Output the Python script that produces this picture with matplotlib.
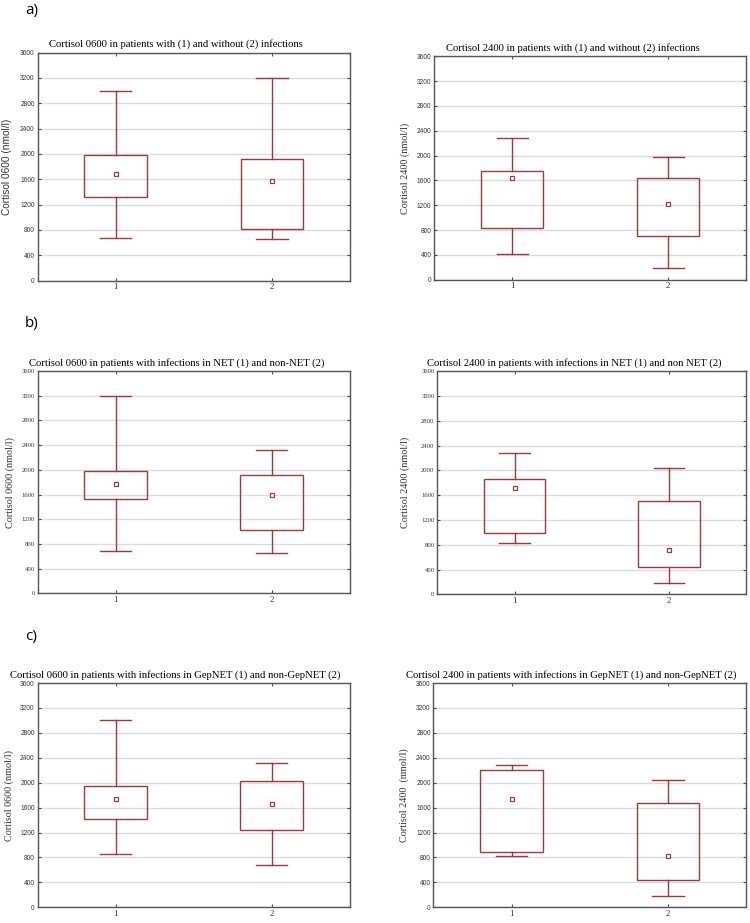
import matplotlib
matplotlib.use("Agg")
import matplotlib.pyplot as plt

## data (nmol/l): whisker low, box low, mean, box high, whisker high
groups = [1, 2]
a06_low = [680, 655];   a06_q1 = [1325, 812];  a06_mean = [1690, 1578]; a06_q3 = [1990, 1920]; a06_high = [3000, 3195]
a24_low = [408, 193];   a24_q1 = [827, 704];   a24_mean = [1644, 1225]; a24_q3 = [1752, 1633]; a24_high = [2289, 1983]
b06_low = [690, 663];   b06_q1 = [1536, 1029]; b06_mean = [1779, 1590]; b06_q3 = [1989, 1924]; b06_high = [3200, 2317]
b24_low = [823, 188];   b24_q1 = [995, 447];   b24_mean = [1717, 710];  b24_q3 = [1862, 1507]; b24_high = [2287, 2039]
c06_low = [848, 687];   c06_q1 = [1411, 1245]; c06_mean = [1744, 1663]; c06_q3 = [1948, 2033]; c06_high = [3010, 2312]
c24_low = [820, 188];   c24_q1 = [884, 445];   c24_mean = [1746, 825];  c24_q3 = [2196, 1671]; c24_high = [2288, 2036]

titles = [
    "Cortisol 0600 in patients with (1) and without (2) infections",
    "Cortisol 2400 in patients with (1) and without (2) infections",
    "Cortisol 0600 in patients with infections in NET (1) and non-NET (2)",
    "Cortisol 2400 in patients with infections in NET (1) and non NET (2)",
    "Cortisol 0600 in patients with infections in GepNET (1) and non-GepNET (2)",
    "Cortisol 2400 in patients with infections in GepNET (1) and non-GepNET (2)",
]
ylabels = ["Cortisol 0600 (nmol/l)", "Cortisol 2400 (nmol/l)",
           "Cortisol 0600 (nmol/l)", "Cortisol 2400 (nmol/l)",
           "Cortisol 0600 (nmol/l)", "Cortisol 2400  (nmol/l)"]
yticks = [0, 400, 800, 1200, 1600, 2000, 2400, 2800, 3200, 3600]

panels = [
    (a06_low, a06_q1, a06_mean, a06_q3, a06_high),
    (a24_low, a24_q1, a24_mean, a24_q3, a24_high),
    (b06_low, b06_q1, b06_mean, b06_q3, b06_high),
    (b24_low, b24_q1, b24_mean, b24_q3, b24_high),
    (c06_low, c06_q1, c06_mean, c06_q3, c06_high),
    (c24_low, c24_q1, c24_mean, c24_q3, c24_high),
]

# axes rectangles in figure fractions [left, bottom, width, height]
rects = [
    [0.050, 0.696, 0.417, 0.247],
    [0.579, 0.697, 0.416, 0.242],
    [0.050, 0.357, 0.416, 0.241],
    [0.583, 0.356, 0.412, 0.242],
    [0.050, 0.017, 0.416, 0.243],
    [0.578, 0.017, 0.417, 0.243],
]
tickfonts = ["Liberation Sans", "Liberation Sans", "Liberation Serif", "Liberation Serif", "Liberation Sans", "Liberation Sans"]
labelfonts = ["Liberation Sans", "Liberation Serif", "Liberation Serif", "Liberation Serif", "Liberation Serif", "Liberation Serif"]
labelx = [-0.082, -0.077, -0.073, -0.087, -0.076, -0.079]
titlex = [0.442, 0.445, 0.447, 0.442, 0.442, 0.44]

col = "#a0383a"
fig = plt.figure(figsize=(7.5, 9.23), dpi=100)

for i, (lo, q1, mn, q3, hi) in enumerate(panels):
    ax = fig.add_axes(rects[i])
    for j, g in enumerate(groups):
        ax.plot([g, g], [lo[j], q1[j]], color=col, lw=1)
        ax.plot([g, g], [q3[j], hi[j]], color=col, lw=1)
        ax.plot([g - 0.1, g + 0.1], [lo[j], lo[j]], color=col, lw=1)
        ax.plot([g - 0.1, g + 0.1], [hi[j], hi[j]], color=col, lw=1)
        ax.add_patch(plt.Rectangle((g - 0.2, q1[j]), 0.4, q3[j] - q1[j],
                                   fill=False, ec=col, lw=1, zorder=3))
        ax.plot(g, mn[j], "s", ms=3, mfc="white", mec=col, mew=0.9, zorder=4)
    ax.set_xlim(0.5, 2.5)
    ax.set_ylim(0, 3600)
    ax.set_xticks(groups)
    ax.set_yticks(yticks)
    ax.grid(axis="y", color="#dcdcdc", lw=1)
    ax.set_axisbelow(True)
    ax.tick_params(direction="in", length=2, width=0.8, top=True, right=True,
                   colors="#444444", labelsize=4.8, labelcolor="#333333", pad=2)
    for t in ax.get_xticklabels():
        t.set_fontfamily("Liberation Serif")
        t.set_fontsize(6.5)
    for t in ax.get_yticklabels():
        t.set_fontfamily(tickfonts[i])
    for s in ax.spines.values():
        s.set_color("#555555")
        s.set_linewidth(1)
    ax.set_title(titles[i], fontfamily="Liberation Serif", fontsize=7.7, pad=4, x=titlex[i])
    ax.set_ylabel(ylabels[i], fontfamily=labelfonts[i], fontsize=7.3, color="#333333")
    ax.yaxis.set_label_coords(labelx[i], 0.5)

fig.text(0.033, 0.989, "a)", fontfamily="Open Sans", fontsize=11, va="center")
fig.text(0.033, 0.650, "b)", fontfamily="Open Sans", fontsize=11, va="center")
fig.text(0.033, 0.310, "c)", fontfamily="Open Sans", fontsize=11, va="center")

fig.savefig("out.png", dpi=100)
